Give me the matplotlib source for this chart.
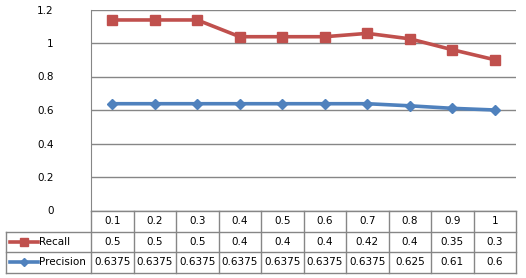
import matplotlib
matplotlib.use("Agg")
import matplotlib.pyplot as plt
import matplotlib.transforms as mtransforms
from matplotlib.lines import Line2D

categories = ["0.1", "0.2", "0.3", "0.4", "0.5", "0.6", "0.7", "0.8", "0.9", "1"]
recall = [0.5, 0.5, 0.5, 0.4, 0.4, 0.4, 0.42, 0.4, 0.35, 0.3]
precision = [0.6375, 0.6375, 0.6375, 0.6375, 0.6375, 0.6375, 0.6375, 0.625, 0.61, 0.6]
recall_txt = ["0.5", "0.5", "0.5", "0.4", "0.4", "0.4", "0.42", "0.4", "0.35", "0.3"]
precision_txt = ["0.6375", "0.6375", "0.6375", "0.6375", "0.6375", "0.6375", "0.6375", "0.625", "0.61", "0.6"]
yticks = [0, 0.2, 0.4, 0.6, 0.8, 1.0, 1.2]
ytick_labels = ["0", "0.2", "0.4", "0.6", "0.8", "1", "1.2"]

W, H = 526, 278
red = "#C0504D"
blue = "#4F81BD"
grey = "#868686"
fs = 7.5

fig = plt.figure(figsize=(W / 100, H / 100), dpi=100)
fig.patch.set_facecolor("white")


def fy(y):
    return 1 - y / H


# plot area in pixels: x 91..516, y 9.5..210.5
ax = fig.add_axes([91 / W, fy(210.5), (516 - 91) / W, 201 / H])
x = list(range(len(categories)))

# stacked line chart: recall is drawn on top of precision
stacked = [p + r for p, r in zip(precision, recall)]
ax.plot(x, stacked, color=red, lw=2.6, marker="s", ms=7.5, mec=red, mfc=red, zorder=3)
ax.plot(x, precision, color=blue, lw=2.6, marker="D", ms=5.5, mec=blue, mfc=blue, zorder=3)

ax.set_xlim(-0.5, len(categories) - 0.5)
ax.set_ylim(0, 1.2)
ax.set_yticks(yticks)
ax.set_yticklabels(ytick_labels, fontsize=fs)
ax.set_xticks([])
ax.grid(axis="y", color=grey, lw=1)
ax.set_axisbelow(True)
for s in ["top", "right", "bottom"]:
    ax.spines[s].set_visible(False)
ax.spines["left"].set_color(grey)
ax.tick_params(axis="y", length=0, pad=27)

# data table under the chart
tr = mtransforms.blended_transform_factory(ax.transData, fig.transFigure)
ftr = fig.transFigure
rows = [211, 231.5, 252, 272.5]
n = len(categories)
lkw = dict(color=grey, lw=1, clip_on=False)

# horizontal lines
fig.add_artist(Line2D([-0.5, n - 0.5], [fy(rows[0])] * 2, transform=tr, **lkw))
for r in rows[1:]:
    fig.add_artist(Line2D([6 / W, 516 / W], [fy(r)] * 2, transform=ftr, **lkw))
# vertical lines
for i in range(n + 1):
    fig.add_artist(Line2D([i - 0.5, i - 0.5], [fy(rows[0]), fy(rows[-1])], transform=tr, **lkw))
fig.add_artist(Line2D([6 / W, 6 / W], [fy(rows[1]), fy(rows[-1])], transform=ftr, **lkw))

for i in range(n):
    for row, txt in zip(range(3), [categories, recall_txt, precision_txt]):
        yc = (rows[row] + rows[row + 1]) / 2
        fig.text(i, fy(yc), txt[i], transform=tr, ha="center", va="center", fontsize=fs)

# legend keys inside the row label cells
for row, name, c, m, ms in [(1, "Recall", red, "s", 6), (2, "Precision", blue, "D", 4)]:
    yc = fy((rows[row] + rows[row + 1]) / 2)
    fig.add_artist(Line2D([10 / W, 38 / W], [yc, yc], transform=ftr, color=c, lw=2.6))
    fig.add_artist(Line2D([24 / W], [yc], transform=ftr, color=c, marker=m, ms=ms, lw=0))
    fig.text(39 / W, yc, name, transform=ftr, ha="left", va="center", fontsize=fs)

fig.savefig("out.png", dpi=100, facecolor="white")
